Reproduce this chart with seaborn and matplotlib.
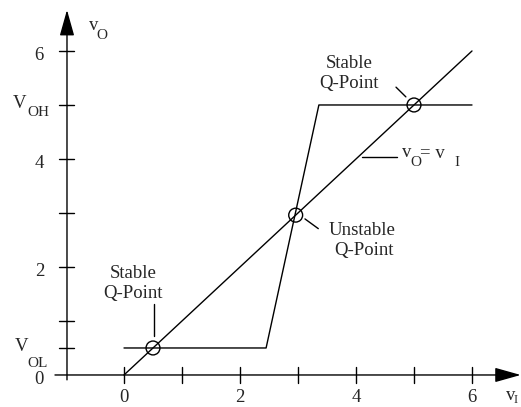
import matplotlib
matplotlib.use("Agg")
import matplotlib.pyplot as plt
import seaborn as sns
import pandas as pd

sns.set_style("white")
plt.rcParams["font.family"] = ["Liberation Serif", "DejaVu Serif"]

# Transfer characteristic of the inverter pair and the vO = vI line
vtc_vi = [0.0, 2.45, 3.36, 6.0]
vtc_vo = [0.5, 0.5, 5.0, 5.0]
unity_vi = [0.0, 6.0]
unity_vo = [0.0, 6.0]

# Operating points where the two curves intersect
q_vi = [0.5, 2.96, 5.0]
q_vo = [0.5, 2.96, 5.0]

x_ticks = [0, 1, 2, 3, 4, 5, 6]
x_tick_labels = ["0", "", "2", "", "4", "", "6"]
y_ticks = [0.5, 1, 2, 3, 4, 5, 6]

V_OH = 5.0
V_OL = 0.5

fig = plt.figure(figsize=(5.21, 4.07), dpi=100)
ax = fig.add_axes([0, 0, 1, 1])

lw = 1.0
fs = 13.5
sub = 11

vtc = pd.DataFrame({"vI": vtc_vi, "vO": vtc_vo})
unity = pd.DataFrame({"vI": unity_vi, "vO": unity_vo})
qpts = pd.DataFrame({"vI": q_vi, "vO": q_vo})

sns.lineplot(data=vtc, x="vI", y="vO", ax=ax, color="black", lw=lw, sort=False, estimator=None)
sns.lineplot(data=unity, x="vI", y="vO", ax=ax, color="black", lw=lw, sort=False, estimator=None)
sns.scatterplot(data=qpts, x="vI", y="vO", ax=ax, s=100, facecolor="none",
                edgecolor="black", linewidth=1.0, zorder=5)
ax.set_xlim(-2.138, 6.845)
ax.set_ylim(-0.593, 6.944)
ax.axis("off")

# Hand-drawn axes with arrowheads
y_axis_x = -0.983
ax.annotate("", xy=(6.84, 0), xytext=(-1.19, 0),
            arrowprops=dict(arrowstyle="-|>,head_length=1.6,head_width=0.45",
                            color="black", lw=lw, shrinkA=0, shrinkB=0))
ax.annotate("", xy=(y_axis_x, 6.76), xytext=(y_axis_x, -0.09),
            arrowprops=dict(arrowstyle="-|>,head_length=1.6,head_width=0.45",
                            color="black", lw=lw, shrinkA=0, shrinkB=0))

# Tick marks
for xv in x_ticks:
    ax.plot([xv, xv], [-0.14, 0.15], color="black", lw=lw)
for yv in y_ticks:
    ax.plot([y_axis_x - 0.14, y_axis_x + 0.12], [yv, yv], color="black", lw=lw)

# Tick labels
for xv, lab in zip(x_ticks, x_tick_labels):
    if lab:
        ax.text(xv, -0.26, lab, ha="center", va="top", fontsize=fs)
for yv in [6, 4, 2]:
    ax.text(-1.46, yv - 0.08, str(yv), ha="center", va="center", fontsize=fs)
ax.text(-1.46, -0.08, "0", ha="center", va="center", fontsize=fs)

# V_OH and V_OL labels
ax.text(-1.68, V_OH + 0.02, "V", ha="right", va="center", fontsize=fs)
ax.text(-1.66, V_OH - 0.14, "OH", ha="left", va="center", fontsize=sub)
ax.text(-1.65, V_OL + 0.02, "V", ha="right", va="center", fontsize=fs)
ax.text(-1.66, V_OL - 0.28, "OL", ha="left", va="center", fontsize=sub)

# Axis names
ax.text(-0.61, 6.48, "v", ha="left", va="center", fontsize=fs)
ax.text(-0.47, 6.29, "O", ha="left", va="center", fontsize=sub)
ax.text(6.58, -0.38, "v", ha="left", va="center", fontsize=fs)
ax.text(6.72, -0.47, "I", ha="left", va="center", fontsize=sub - 2)

# Annotations for the Q-points
ax.text(3.88, 5.69, "Stable", ha="center", va="baseline", fontsize=fs)
ax.text(3.88, 5.32, "Q-Point", ha="center", va="baseline", fontsize=fs)
ax.plot([4.69, 4.86], [5.33, 5.15], color="black", lw=lw)

ax.text(0.16, 1.8, "Stable", ha="center", va="baseline", fontsize=fs)
ax.text(0.16, 1.43, "Q-Point", ha="center", va="baseline", fontsize=fs)
ax.plot([0.52, 0.52], [1.32, 0.72], color="black", lw=lw)

ax.text(3.52, 2.59, "Unstable", ha="left", va="baseline", fontsize=fs)
ax.text(3.62, 2.22, "Q-Point", ha="left", va="baseline", fontsize=fs)
ax.plot([3.12, 3.35], [2.89, 2.71], color="black", lw=lw)

# vO = vI label
ax.plot([4.1, 4.7], [4.04, 4.04], color="black", lw=lw)
ax.text(4.8, 4.12, "v", ha="left", va="center", fontsize=fs)
ax.text(4.93, 3.93, "O", ha="left", va="center", fontsize=sub)
ax.text(5.11, 4.1, "= v", ha="left", va="center", fontsize=fs)
ax.text(5.7, 3.93, "I", ha="left", va="center", fontsize=sub)

fig.savefig("out.png", dpi=100)
